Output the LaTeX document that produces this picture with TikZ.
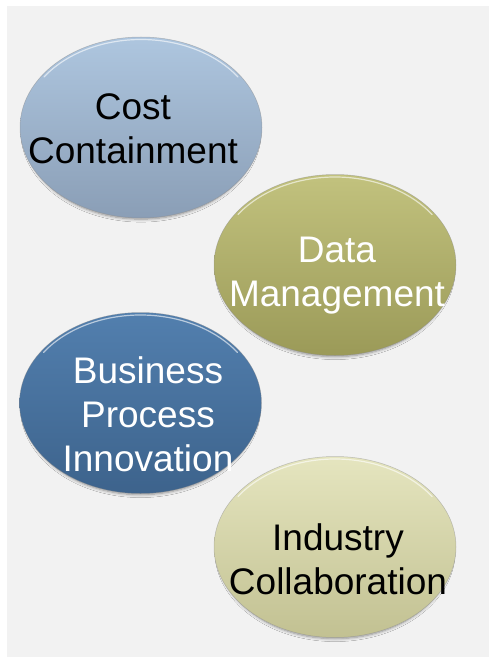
\documentclass[tikz,border=0pt]{standalone}
\usepackage{fontspec}
\setmainfont{Liberation Sans}
\usetikzlibrary{shapes.geometric,shadows.blur}
\definecolor{panel}{HTML}{F2F2F2}
\definecolor{ccTop}{HTML}{AEC6DF}
\definecolor{ccBot}{HTML}{8A9EB6}
\definecolor{dmTop}{HTML}{C2C27E}
\definecolor{dmBot}{HTML}{9B9A58}
\definecolor{bpTop}{HTML}{527FAE}
\definecolor{bpBot}{HTML}{3D638C}
\definecolor{icTop}{HTML}{E5E5BF}
\definecolor{icBot}{HTML}{C2C192}
\tikzset{
  x=1pt, y=-1pt,
  bubble/.style={ellipse, minimum width=242pt, minimum height=181pt, inner sep=0pt,
    draw=black!45, draw opacity=0.5, line width=0.5pt,
    blur shadow={shadow xshift=0pt, shadow yshift=-4pt, shadow scale=0.97,
      shadow blur radius=3pt, shadow blur steps=8, shadow opacity=40}},
  label/.style={anchor=north, inner sep=0pt, align=center,
    font=\fontsize{37}{44}\selectfont},
  rim/.style={white, opacity=0.6, line width=1.2pt, line cap=round}
}
\begin{document}
\begin{tikzpicture}
\useasboundingbox (0,0) rectangle (489,658);
\fill[panel] (7,6) rectangle (489,657);

\node[bubble, top color=ccTop, bottom color=ccBot] (cc) at (141,127.5) {};
\node[bubble, top color=dmTop, bottom color=dmBot] (dm) at (335,265) {};
\node[bubble, top color=bpTop, bottom color=bpBot] (bp) at (140.5,403) {};
\node[bubble, top color=icTop, bottom color=icBot] (ic) at (335,547) {};

\foreach \n in {cc,dm,bp,ic}{
  \draw[rim] (\n.center) ++(145:118.5pt and 88pt) arc[start angle=145, end angle=35, x radius=118.5pt, y radius=88pt];
}

\node[label, text=black] (cct) at (133,93.5) {Cost\\Containment};
\node[label, text=white] (dmt) at (337,236.5) {Data\\Management};
\node[label, text=white] (bpt) at (148,356.5) {Business\\Process\\Innovation};
\node[label, text=black] (ict) at (338,523.5) {Industry\\Collaboration};
\end{tikzpicture}
\end{document}
